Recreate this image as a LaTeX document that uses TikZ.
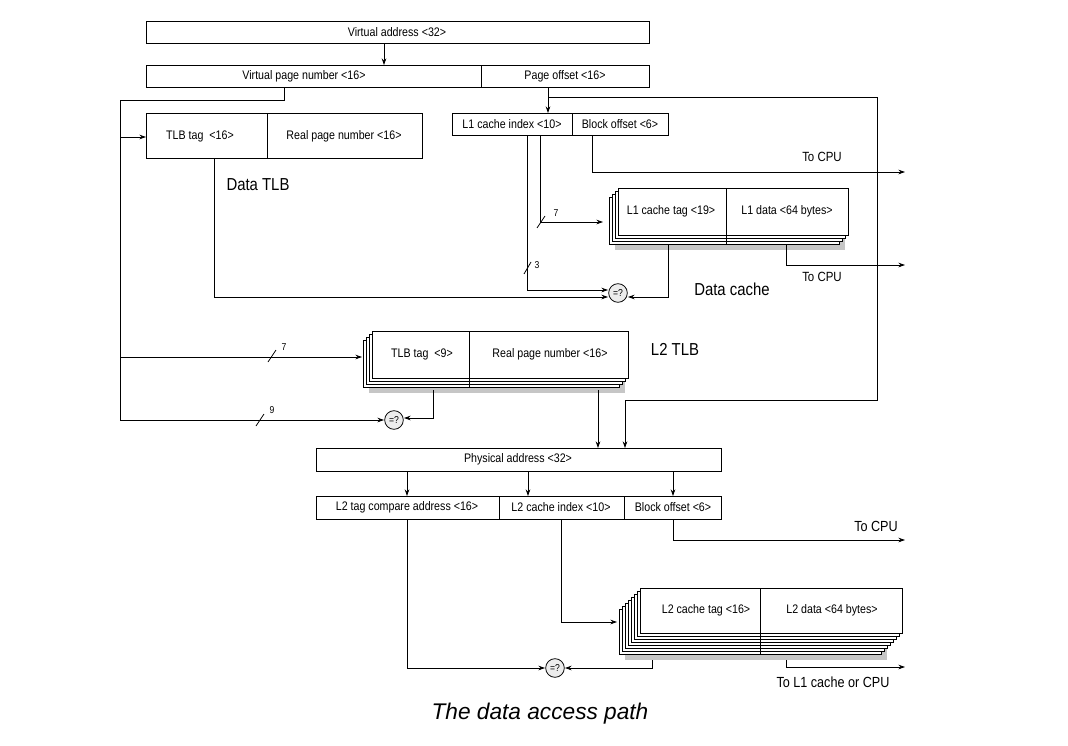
\documentclass[tikz,border=0pt]{standalone}
\usepackage{fontspec}
\setmainfont{Liberation Sans}[FakeStretch=0.86]
\newfontfamily\capfont{Liberation Sans}
\usetikzlibrary{arrows.meta}
\newcommand\stackbox[6]{%
  \fill[gray!45] ({#1-3*#5+6},{#2+3*#5+6}) rectangle ({#3-3*#5+6},{#4+3*#5+6});
  \foreach \i in {#5,...,1}{\draw[fill=white,line width=0.5pt] ({#1-3*\i},{#2+3*\i}) rectangle ({#3-3*\i},{#4+3*\i});
    \draw[line width=0.5pt] (#6,{#4+3*\i-2}) -- (#6,{#4+3*\i});}
  \draw[fill=white,line width=0.7pt] (#1,#2) rectangle (#3,#4);
  \draw[line width=0.7pt] (#6,#2) -- (#6,#4);}
\begin{document}
\begin{tikzpicture}[x=0.75pt,y=-0.75pt,line width=0.6pt,
  fld/.style={font=\fontsize{9.3}{10}\selectfont,inner sep=0pt},
  lbl/.style={font=\fontsize{10}{11}\selectfont,inner sep=0pt},
  big/.style={font=\fontsize{13}{14}\selectfont,inner sep=0pt},
  arr/.style={-{Stealth[length=5pt,width=3.5pt]}},
  cmp/.style={circle,draw,fill=gray!15,inner sep=0pt,minimum size=14pt,font=\fontsize{7.5}{8}\selectfont}]
\useasboundingbox (0,0) rectangle (1068,746);
% top boxes
\draw (146,21) rectangle (649,43); \node[fld] (va) at (397,32) {Virtual address <32>};
\draw (146,65) rectangle (481,87); \node[fld] (vpn) at (304,76) {Virtual page number <16>};
\draw (481,65) rectangle (649,87); \node[fld] (po) at (565,76) {Page offset <16>};
\draw[arr] (384,43) -- (384,65);
% TLB
\draw (146,113) rectangle (422,158); \draw (267,113) -- (267,158);
\node[fld] (tlbt) at (200,136) {TLB tag \ <16>};
\node[fld] (rpn) at (344,136) {Real page number <16>};
\node[big] (dtlb) at (258,185) {Data TLB};
% L1 fields
\draw (452,113) rectangle (572,135); \draw (572,113) rectangle (668,135);
\node[fld] (l1i) at (512,124) {L1 cache index <10>};
\node[fld] (l1b) at (620,124) {Block offset <6>};
% left bus
\draw (284,87) -- (284,100) -- (120,100) -- (120,420);
\draw[arr] (120,137) -- (146,137);
\draw[arr] (120,357) -- (362,357);
% page offset
\draw[arr] (548,87) -- (548,113);
\draw (548,97) -- (877,97) -- (877,400) -- (625,400);
\draw[arr] (625,400) -- (625,448);
% data cache
\stackbox{618}{188}{848}{235}{3}{726}
\node[fld] (l1t) at (671,211) {L1 cache tag <19>};
\node[fld] (l1d) at (787,211) {L1 data <64 bytes>};
\node[big] (dc) at (732,289) {Data cache};
\node[cmp] (c1) at (618,293) {=?};
\draw[arr] (592,135) -- (592,172) -- (905,172);
\node[lbl] at (822,157) {To CPU};
\draw[arr] (540,135) -- (540,222) -- (603,222);
\draw (537,228) -- (545,216); \node[lbl,font=\fontsize{7.5}{8}\selectfont] at (556,213) {7};
\draw[arr] (527,135) -- (527,290) -- (608,290);
\draw (524,274) -- (531,262); \node[lbl,font=\fontsize{7.5}{8}\selectfont] at (537,265) {3};
\draw[arr] (214,158) -- (214,297) -- (608,297);
\draw[arr] (668,245) -- (668,297) -- (628,297);
\draw[arr] (786,245) -- (786,265) -- (905,265);
\node[lbl] at (822,277) {To CPU};
% L2 TLB
\stackbox{372}{331}{628}{378}{3}{469}
\node[fld] (l2tt) at (422,354) {TLB tag \ <9>};
\node[fld] (l2rp) at (550,354) {Real page number <16>};
\node[big] (l2tlb) at (675,349) {L2 TLB};
\node[cmp] (c2) at (394,420) {=?};
\draw (268,362) -- (276,350); \node[lbl,font=\fontsize{7.5}{8}\selectfont] at (284,347) {7};
\draw[arr] (120,420) -- (384,420);
\draw (256,426) -- (264,414); \node[lbl,font=\fontsize{7.5}{8}\selectfont] at (272,410) {9};
\draw[arr] (433,390) -- (433,418) -- (404,418);
\draw[arr] (598,390) -- (598,448);
% physical address
\draw (316,448) rectangle (721,471); \node[fld] (pa) at (518,459) {Physical address <32>};
\draw (316,496) rectangle (499,519); \draw (499,496) rectangle (624,519); \draw (624,496) rectangle (721,519);
\node[fld] (l2tc) at (407,507) {L2 tag compare address <16>};
\node[fld] (l2i) at (561,507) {L2 cache index <10>};
\node[fld] (l2b) at (673,507) {Block offset <6>};
\foreach \x in {407,528,673} \draw[arr] (\x,471) -- (\x,496);
\draw[arr] (673,519) -- (673,540) -- (905,540);
\node[lbl,font=\fontsize{11}{12}\selectfont] at (876,526) {To CPU};
% L2 cache
\stackbox{640}{588}{902}{633}{7}{760}
\node[fld] (l2ct) at (706,610) {L2 cache tag <16>};
\node[fld] (l2d) at (832,610) {L2 data <64 bytes>};
\node[cmp] (c3) at (555,668) {=?};
\draw[arr] (561,519) -- (561,622) -- (617,622);
\draw[arr] (407,519) -- (407,668) -- (545,668);
\draw[arr] (652,660) -- (652,668) -- (565,668);
\draw[arr] (786,660) -- (786,667) -- (905,667);
\node[lbl,font=\fontsize{11}{12}\selectfont] at (833,682) {To L1 cache or CPU};
\node[font=\capfont\itshape\fontsize{17}{19}\selectfont] (cap) at (540,714) {The data access path};
\end{tikzpicture}
\end{document}
